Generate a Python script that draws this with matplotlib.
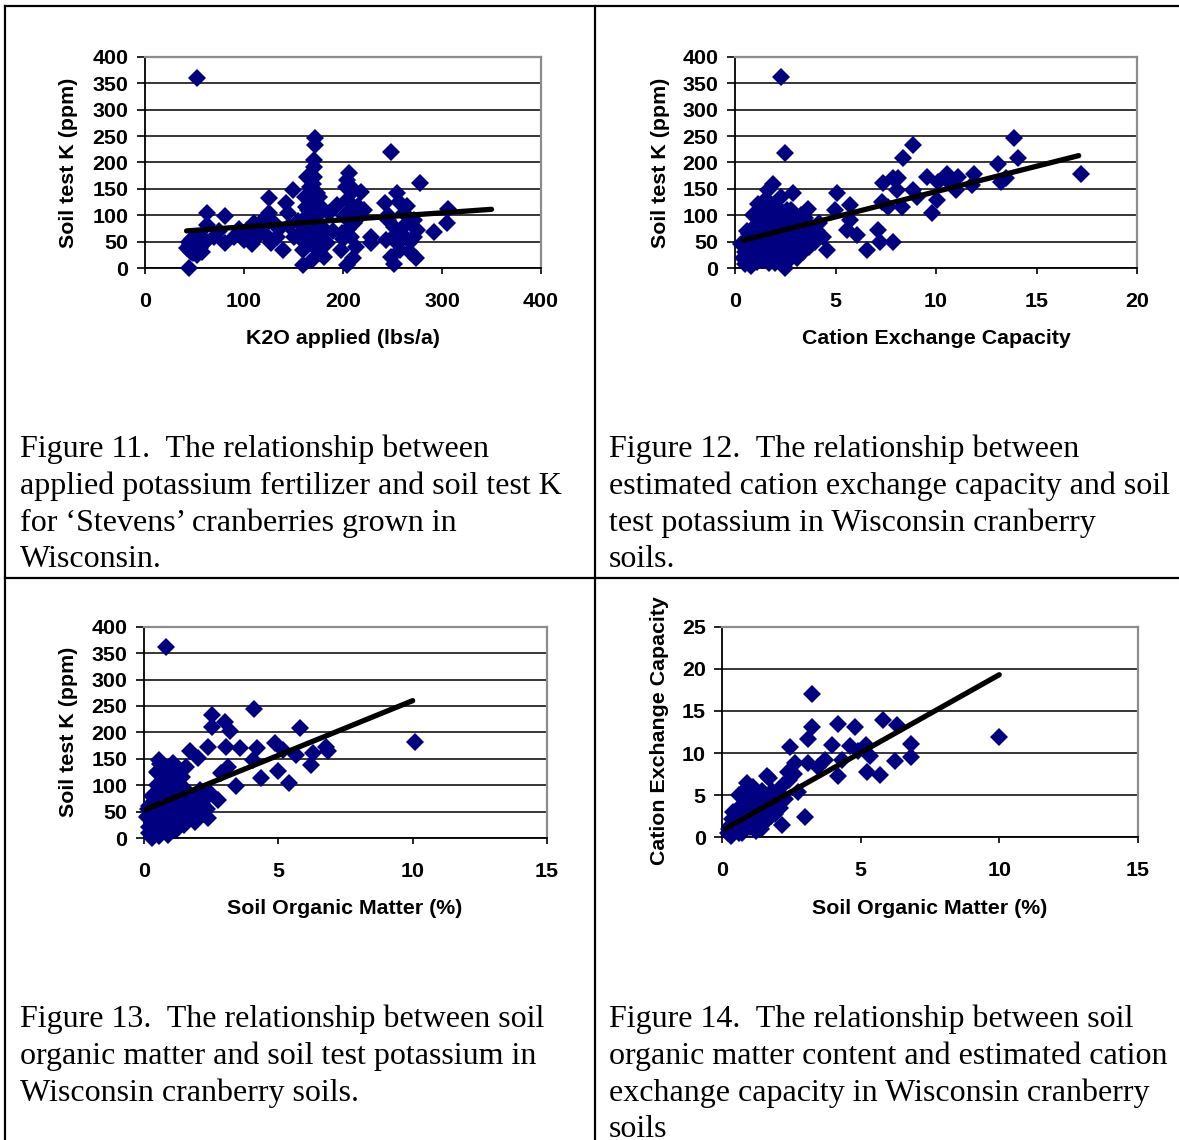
import matplotlib
matplotlib.use("Agg")
import matplotlib.pyplot as plt
from matplotlib.lines import Line2D

W, H = 1179, 1140
DPI = 100

# ---------------- data ----------------
# Figure 11: K2O applied vs soil test K
k2o_applied = [53, 44, 45, 48, 50, 52, 55, 58, 47, 60, 53, 42, 46,
               63, 63, 81, 81, 70, 75,
               100, 103, 112, 113, 120, 133, 108,
               125, 125, 130, 127, 139, 144, 149, 142, 135, 118,
               172, 172, 171, 171, 164, 171, 167, 174, 162, 171, 177, 164, 171, 160, 174, 167,
               160, 177, 160, 169, 181, 184, 179, 165, 175, 168, 172, 158, 178, 165,
               194, 186, 190,
               206, 204, 203, 211, 218, 204, 215, 221, 201, 211, 199, 208, 198, 204, 213, 205, 210,
               228, 228, 248,
               242, 255, 257, 265, 245, 252, 262, 272, 275, 243, 255, 248, 258, 272, 274, 252, 260, 268,
               278, 292, 306, 305,
               44, 50, 56, 48, 62, 57, 150, 155, 145, 163, 168, 176, 170, 166, 180, 200, 215, 207,
               245, 250, 262, 268, 120, 90, 95, 110]
soil_k_11 = [360, 0, 45, 40, 50, 35, 42, 30, 55, 48, 25, 38, 30,
             104, 82, 98, 47, 60, 70,
             54, 72, 72, 60, 66, 60, 45,
             132, 104, 85, 47, 35, 104, 148, 123, 75, 90,
             246, 233, 205, 192, 173, 173, 154, 142, 135, 123, 117, 98, 85, 72, 60, 47,
             35, 29, 6, 16, 22, 47, 66, 110, 100, 65, 40, 55, 80, 85,
             120, 104, 70,
             180, 167, 154, 148, 145, 129, 117, 110, 98, 85, 66, 60, 35, 6, 41, 75, 20,
             47, 60, 219,
             123, 142, 126, 117, 91, 79, 104, 91, 72, 54, 47, 22, 35, 60, 19, 9, 65, 50,
             161, 69, 113, 85,
             50, 58, 38, 28, 52, 60, 60, 90, 80, 115, 125, 135, 160, 50, 55, 55, 95, 110,
             100, 60, 80, 30, 80, 60, 75, 85]
trend11_x = [42, 350]
trend11_y = [70.7, 111.5]

# Figure 12: CEC vs soil test K
cec_12 = [2.27, 2.49, 1.91, 1.66, 2.9, 1.16,
          5.06, 3.65, 4.97, 5.72, 5.72, 5.55, 6.05, 6.55, 7.13, 7.21, 7.88, 7.3, 7.38, 7.63,
          7.88, 8.13, 8.05, 8.29, 8.38, 8.84, 8.87, 9.04, 9.54, 9.78, 10.03, 10.11, 10.53,
          10.7, 11.1, 11.0, 11.9, 11.8, 13.1, 13.25, 13.5, 13.9, 14.1, 17.2,
          0.5, 0.6, 0.7, 0.8, 0.9, 1.0, 1.0, 1.1, 1.2, 1.2, 1.3, 1.4, 1.4, 1.5, 1.5, 1.6,
          1.7, 1.7, 1.8, 1.9, 1.9, 2.0, 2.0, 2.1, 2.2, 2.2, 2.3, 2.4, 2.4, 2.5, 2.5, 2.6,
          2.7, 2.8, 2.9, 3.0, 3.0, 3.2, 3.3, 3.4, 3.5, 3.6, 3.7, 3.9, 4.0, 4.2, 4.4, 4.6,
          0.4, 0.5, 0.8, 1.1, 1.3, 2.7, 3.1, 1.6, 2.3, 1.8, 2.8, 0.3, 0.83,
          0.6, 0.7, 0.9, 1.0, 1.1, 1.2, 1.3, 1.4, 1.5, 1.6, 1.7, 1.8, 1.9, 2.0, 2.1, 2.2,
          2.3, 2.4, 2.5, 2.6, 2.7, 2.8, 2.9, 3.0, 3.1, 3.2, 3.3, 3.4, 3.6, 3.8, 4.1, 1.3,
          1.5, 2.0, 1.0, 0.7, 0.5, 1.8, 2.6, 3.5]
soil_k_12 = [361, 218, 160, 148, 143, 121,
             142, 113, 111, 120, 91, 72, 63, 34, 72, 50, 50, 126, 161, 116,
             170, 170, 148, 116, 208, 233, 148, 135, 173, 104, 129, 164, 179,
             161, 173, 148, 179, 157, 198, 164, 170, 246, 208, 178,
             50, 30, 15, 60, 40, 80, 20, 55, 100, 35, 70, 90, 45, 25, 110, 60,
             80, 10, 50, 95, 30, 70, 120, 45, 85, 20, 60, 105, 40, 75, 0, 55,
             90, 30, 65, 100, 45, 80, 55, 30, 95, 65, 40, 75, 50, 85, 60, 35,
             20, 8, 5, 12, 25, 15, 20, 130, 135, 115, 110, 45, 9,
             70, 45, 100, 65, 30, 75, 50, 15, 85, 40, 100, 70, 60, 35, 100, 55,
             85, 70, 95, 30, 60, 80, 45, 70, 90, 35, 100, 60, 85, 55, 70, 120,
             130, 10, 40, 65, 30, 25, 110, 45]
trend12_x = [0.4, 17.1]
trend12_y = [53, 213]

# Figure 13: soil organic matter vs soil test K
som_13 = [0.82, 4.1, 2.52, 3.0, 2.52, 3.2, 5.8, 2.39, 1.71, 2.02, 3.07, 3.57, 4.19, 4.87,
          5.18, 5.67, 6.3, 6.79, 6.85, 6.23, 4.97, 4.36, 5.4, 3.42, 4.04, 3.11, 2.86, 10.1,
          0.51, 0.57, 1.07, 1.56, 2.74, 2.37, 0.57, 0.14,
          0.1, 0.2, 0.2, 0.3, 0.3, 0.4, 0.4, 0.5, 0.5, 0.6, 0.6, 0.7, 0.7, 0.8, 0.8, 0.9,
          0.9, 1.0, 1.0, 1.1, 1.1, 1.2, 1.2, 1.3, 1.4, 1.4, 1.5, 1.5, 1.6, 1.7, 1.8, 1.9,
          2.0, 2.1, 2.2, 2.3, 1.3, 0.6, 0.9, 0.3,
          0.15, 0.25, 0.35, 0.45, 0.55, 0.65, 0.75, 0.85, 0.95, 1.05, 1.15, 1.25, 1.35, 1.45,
          1.55, 1.65, 1.75, 1.85, 1.95, 2.05, 2.15, 2.35, 2.45, 0.5, 0.8, 1.0, 0.4, 0.7, 1.2, 0.2]
soil_k_13 = [361, 244, 233, 220, 210, 202, 208, 173, 164, 151, 173, 170, 170, 179,
             167, 157, 161, 173, 164, 138, 126, 113, 104, 98, 148, 135, 123, 181,
             123, 148, 142, 135, 72, 38, 3, 41,
             40, 60, 20, 80, 30, 50, 10, 100, 35, 70, 20, 120, 45, 90, 25, 60,
             110, 40, 80, 130, 55, 30, 95, 70, 45, 115, 60, 25, 85, 40, 65, 30,
             55, 90, 45, 75, 100, 140, 5, 0,
             55, 45, 65, 85, 55, 95, 65, 40, 85, 60, 95, 50, 80, 35,
             90, 55, 75, 45, 80, 40, 65, 55, 85, 125, 135, 120, 25, 30, 15, 10]
trend13_x = [0.0, 10.0]
trend13_y = [53, 260]

# Figure 14: soil organic matter vs CEC
som_14 = [3.23, 3.23, 3.1, 4.19, 4.79, 5.81, 6.3, 3.95, 2.44, 4.61, 5.2, 6.83, 4.91, 5.33,
          6.83, 4.31, 6.24, 5.21, 5.69, 4.19, 3.71, 3.47, 3.1, 2.62, 2.38, 1.6, 2.74, 2.99,
          2.14, 10.0,
          0.2, 0.3, 0.4, 0.5, 0.5, 0.6, 0.6, 0.7, 0.7, 0.8, 0.8, 0.9, 0.9, 1.0, 1.0, 1.1,
          1.1, 1.2, 1.3, 1.3, 1.4, 1.5, 1.6, 1.7, 1.8, 1.9, 2.0, 2.2, 0.4, 0.6, 0.9, 1.2,
          2.1, 1.7, 0.3,
          0.25, 0.35, 0.45, 0.55, 0.65, 0.75, 0.85, 0.95, 1.05, 1.15, 1.25, 1.35, 1.45, 1.55,
          1.65, 1.75, 1.85, 1.95, 2.05, 2.25, 0.8, 1.0, 1.4, 0.6, 2.4, 2.6]
cec_14 = [17.0, 13.1, 11.7, 13.5, 13.1, 13.9, 13.3, 11.0, 10.7, 10.8, 11.0, 11.1, 10.2, 9.6,
          9.5, 9.2, 9.0, 7.8, 7.4, 7.3, 9.2, 8.4, 8.8, 8.8, 7.8, 7.3, 5.4, 2.4,
          1.45, 11.9,
          0.5, 1.5, 0.8, 2.5, 1.0, 3.5, 1.8, 2.8, 0.5, 4.5, 2.0, 3.2, 5.5, 1.2, 4.0, 2.5,
          6.0, 3.5, 1.5, 5.0, 3.0, 4.5, 2.0, 3.8, 5.5, 2.8, 4.2, 6.2, 3.0, 5.0, 6.5, 0.8,
          3.5, 7.0, 0.2,
          1.0, 2.2, 1.5, 3.0, 2.2, 4.0, 3.0, 1.8, 3.0, 4.5, 2.2, 3.8, 5.5, 3.2,
          4.8, 2.5, 4.0, 3.5, 5.0, 4.5, 5.5, 6.0, 1.0, 0.5, 6.8, 7.5]
trend14_x = [0.1, 10.0]
trend14_y = [1.0, 19.3]

k_ticks = [0, 50, 100, 150, 200, 250, 300, 350, 400]
cec_ticks = [0, 5, 10, 15, 20, 25]

captions = {
    "11": ["Figure 11.  The relationship between",
           "applied potassium fertilizer and soil test K",
           "for \u2018Stevens\u2019 cranberries grown in",
           "Wisconsin."],
    "12": ["Figure 12.  The relationship between",
           "estimated cation exchange capacity and soil",
           "test potassium in Wisconsin cranberry",
           "soils."],
    "13": ["Figure 13.  The relationship between soil",
           "organic matter and soil test potassium in",
           "Wisconsin cranberry soils."],
    "14": ["Figure 14.  The relationship between soil",
           "organic matter content and estimated cation",
           "exchange capacity in Wisconsin cranberry",
           "soils"],
}

# ---------------- drawing ----------------
fig = plt.figure(figsize=(W / DPI, H / DPI), dpi=DPI)
fig.patch.set_facecolor("white")

def fx(x):
    return x / W

def fy(y):
    return 1 - y / H

SANS = "Liberation Sans"
SERIF = "Liberation Serif"
NAVY = "#000080"
FS = 15.4


def make_axes(left, right, top, bottom, xs, ys, tx, ty, xlim, xticks, ylim, yticks):
    ax = fig.add_axes([fx(left), fy(bottom), fx(right - left), (bottom - top) / H])
    ax.set_xlim(*xlim)
    ax.set_ylim(*ylim)
    ax.set_xticks(xticks)
    ax.set_yticks(yticks)
    ax.set_xticklabels([str(t) for t in xticks])
    ax.set_yticklabels([str(t) for t in yticks])
    for lab in ax.get_xticklabels() + ax.get_yticklabels():
        lab.set_fontfamily(SANS)
        lab.set_fontweight("bold")
        lab.set_fontsize(FS)
    ax.tick_params(axis="y", direction="out", length=6, width=1.2, pad=6, colors="black")
    ax.tick_params(axis="x", direction="out", length=4.5, width=1.2, pad=12.5, colors="black")
    ax.yaxis.grid(True, color="black", linewidth=1.1)
    ax.set_axisbelow(True)
    for s in ("top", "right"):
        ax.spines[s].set_color("#8c8c8c")
        ax.spines[s].set_linewidth(1.6)
    for s in ("left", "bottom"):
        ax.spines[s].set_color("black")
        ax.spines[s].set_linewidth(1.3)
    ax.plot(xs, ys, linestyle="none", marker="D", markersize=9.5, color=NAVY,
            markeredgewidth=0, zorder=3, clip_on=False)
    ax.plot(tx, ty, color="black", linewidth=3.8, solid_capstyle="round", zorder=4)
    return ax


make_axes(145, 541, 56.7, 268.3, k2o_applied, soil_k_11, trend11_x, trend11_y,
          (0, 400), [0, 100, 200, 300, 400], (0, 400), k_ticks)
make_axes(735, 1137, 56.7, 268.3, cec_12, soil_k_12, trend12_x, trend12_y,
          (0, 20), [0, 5, 10, 15, 20], (0, 400), k_ticks)
make_axes(144, 547, 626.7, 838, som_13, soil_k_13, trend13_x, trend13_y,
          (0, 15), [0, 5, 10, 15], (0, 400), k_ticks)
make_axes(722.3, 1137.7, 626.7, 837.3, som_14, cec_14, trend14_x, trend14_y,
          (0, 15), [0, 5, 10, 15], (0, 25), cec_ticks)

LBL = dict(fontfamily=SANS, fontweight="bold", fontsize=FS, color="black",
           ha="center", va="center")
fig.text(fx(69), fy(163), "Soil test K (ppm)", rotation=90, **LBL)
fig.text(fx(343), fy(339), "K2O applied (lbs/a)", **LBL)
fig.text(fx(660), fy(163), "Soil test K (ppm)", rotation=90, **LBL)
fig.text(fx(936), fy(339), "Cation Exchange Capacity", **LBL)
fig.text(fx(69), fy(732), "Soil test K (ppm)", rotation=90, **LBL)
fig.text(fx(345), fy(909), "Soil Organic Matter (%)", **LBL)
fig.text(fx(659), fy(731), "Cation Exchange Capacity", rotation=90, **LBL)
fig.text(fx(930), fy(909), "Soil Organic Matter (%)", **LBL)

CAP = dict(fontfamily=SERIF, fontsize=23, color="black", ha="left", va="baseline")
line_gap = 36.8
for key, x0, y0 in (("11", 20, 457), ("12", 609, 457), ("13", 20, 1027), ("14", 609, 1027)):
    for i, line in enumerate(captions[key]):
        fig.text(fx(x0), fy(y0 + i * line_gap), line, **CAP)

# table borders
BL = dict(color="black", linewidth=1.6, transform=fig.transFigure)
fig.add_artist(Line2D([fx(5), fx(W)], [fy(6), fy(6)], **BL))
fig.add_artist(Line2D([fx(5), fx(5)], [fy(6), fy(H)], **BL))
fig.add_artist(Line2D([fx(595), fx(595)], [fy(6), fy(H)], **BL))
fig.add_artist(Line2D([fx(5), fx(W)], [fy(578), fy(578)], **BL))

fig.savefig("out.png", dpi=DPI, facecolor="white")
